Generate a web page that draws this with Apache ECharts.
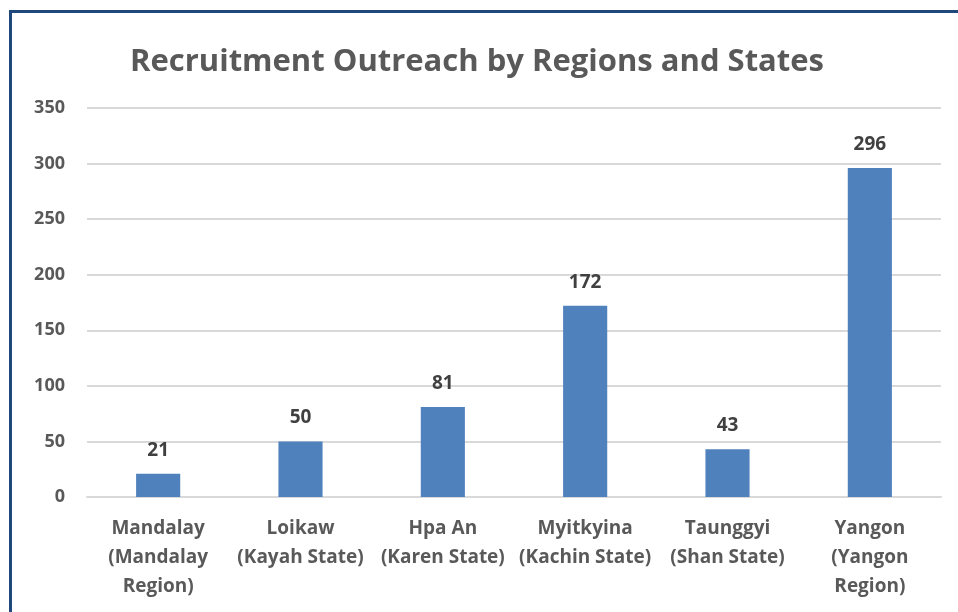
<!DOCTYPE html>
<html>
<head>
<meta charset="utf-8">
<script src="https://cdn.jsdelivr.net/npm/echarts@6/dist/echarts.min.js"></script>
<style>
  html, body { margin: 0; padding: 0; background: #fff; }
  #wrap { position: relative; width: 958px; height: 612px; }
  #chart { width: 958px; height: 612px; }
  /* frame lines of the original slide */
  #frame { position: absolute; left: 9px; top: 10px; right: 0; bottom: 0;
           border-top: 3px solid #1F497D; border-left: 3px solid #1F497D; pointer-events: none; }
</style>
</head>
<body>
<div id="wrap">
  <div id="chart"></div>
  <div id="frame"></div>
</div>
<script>
const categories = [
  'Mandalay\n(Mandalay\nRegion)',
  'Loikaw\n(Kayah State)',
  'Hpa An\n(Karen State)',
  'Myitkyina\n(Kachin State)',
  'Taunggyi\n(Shan State)',
  'Yangon\n(Yangon\nRegion)'
]
const values = [21, 50, 81, 172, 43, 296]

const fontFamily = '"Open Sans", sans-serif'
const myChart = echarts.init(document.getElementById('chart'))

const option = {
  animation: false,
  title: {
    text: 'Recruitment Outreach by Regions and States',
    left: 125,
    top: 42,
    textStyle: {
      fontFamily: fontFamily,
      fontSize: 31,
      fontWeight: 'bold',
      color: '#595959',
    },
  },
  grid: {
    left: 87,
    right: 17,
    top: 108,
    bottom: 115,
    containLabel: false,
  },
  xAxis: {
    type: 'category',
    data: categories,
    axisTick: { show: false },
    axisLine: { lineStyle: { color: '#d9d9d9', width: 2 } },
    axisLabel: {
      interval: 0,
      margin: 17,
      fontFamily: fontFamily,
      fontSize: 19,
      fontWeight: 'bold',
      lineHeight: 29,
      color: '#595959',
    },
  },
  yAxis: {
    type: 'value',
    min: 0,
    max: 350,
    interval: 50,
    axisLine: { show: false },
    axisTick: { show: false },
    splitLine: { lineStyle: { color: '#d9d9d9', width: 2 } },
    axisLabel: {
      margin: 22,
      fontFamily: fontFamily,
      fontSize: 18,
      fontWeight: 'bold',
      color: '#595959',
    },
  },
  series: [
    {
      type: 'bar',
      data: values,
      barWidth: '31%',
      itemStyle: { color: '#4F81BD' },
      label: {
        show: true,
        position: 'top',
        distance: 14,
        fontFamily: fontFamily,
        fontSize: 19,
        fontWeight: 'bold',
        color: '#404040',
      },
    },
  ],
}

myChart.setOption(option)
window.addEventListener('resize', myChart.resize)
</script>
</body>
</html>
